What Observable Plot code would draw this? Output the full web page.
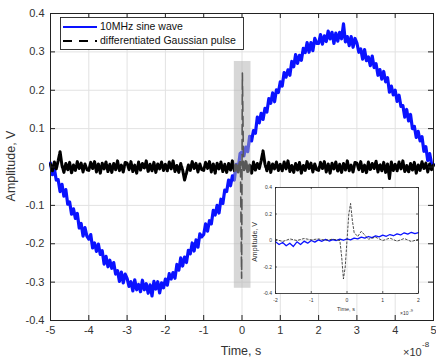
<!DOCTYPE html>
<html><head><meta charset="utf-8">
<script src="https://cdn.jsdelivr.net/npm/d3@7"></script>
<script src="https://cdn.jsdelivr.net/npm/@observablehq/plot@0.6"></script>
<style>
body{margin:0;background:#fff;}
#wrap{position:relative;width:436px;height:361px;overflow:hidden;}
#main{position:absolute;left:0;top:0;}
#inset{position:absolute;left:245px;top:180px;}
</style></head><body>
<div id="wrap"><div id="main"></div><div id="inset"></div></div>
<script>
// ---------- data (time in units of 1e-8 s for main, 1e-9 s for inset) ----------
const tMain = [-5.00,-4.95,-4.90,-4.85,-4.80,-4.75,-4.70,-4.65,-4.60,-4.55,-4.50,-4.45,-4.40,-4.35,-4.30,-4.25,-4.20,-4.15,-4.10,-4.05,
-4.00,-3.95,-3.90,-3.85,-3.80,-3.75,-3.70,-3.65,-3.60,-3.55,-3.50,-3.45,-3.40,-3.35,-3.30,-3.25,-3.20,-3.15,-3.10,-3.05,
-3.00,-2.95,-2.90,-2.85,-2.80,-2.75,-2.70,-2.65,-2.60,-2.55,-2.50,-2.45,-2.40,-2.35,-2.30,-2.25,-2.20,-2.15,-2.10,-2.05,
-2.00,-1.95,-1.90,-1.85,-1.80,-1.75,-1.70,-1.65,-1.60,-1.55,-1.50,-1.45,-1.40,-1.35,-1.30,-1.25,-1.20,-1.15,-1.10,-1.05,
-1.00,-0.95,-0.90,-0.85,-0.80,-0.75,-0.70,-0.65,-0.60,-0.55,-0.50,-0.45,-0.40,-0.35,-0.30,-0.25,-0.20,-0.15,-0.10,-0.05,
0.00,0.05,0.10,0.15,0.20,0.25,0.30,0.35,0.40,0.45,0.50,0.55,0.60,0.65,0.70,0.75,0.80,0.85,0.90,0.95,
1.00,1.05,1.10,1.15,1.20,1.25,1.30,1.35,1.40,1.45,1.50,1.55,1.60,1.65,1.70,1.75,1.80,1.85,1.90,1.95,
2.00,2.05,2.10,2.15,2.20,2.25,2.30,2.35,2.40,2.45,2.50,2.55,2.60,2.65,2.70,2.75,2.80,2.85,2.90,2.95,
3.00,3.05,3.10,3.15,3.20,3.25,3.30,3.35,3.40,3.45,3.50,3.55,3.60,3.65,3.70,3.75,3.80,3.85,3.90,3.95,
4.00,4.05,4.10,4.15,4.20,4.25,4.30,4.35,4.40,4.45,4.50,4.55,4.60,4.65,4.70,4.75,4.80,4.85,4.90,4.95,5.00];
const sineWave = [0.010,-0.020,-0.004,-0.034,-0.033,-0.064,-0.045,-0.076,-0.059,-0.097,
-0.091,-0.123,-0.109,-0.134,-0.121,-0.159,-0.147,-0.180,-0.158,-0.180,
-0.188,-0.176,-0.211,-0.198,-0.220,-0.201,-0.228,-0.218,-0.253,-0.233,
-0.260,-0.243,-0.264,-0.249,-0.279,-0.270,-0.298,-0.274,-0.302,-0.279,
-0.290,-0.311,-0.299,-0.323,-0.294,-0.320,-0.306,-0.325,-0.295,-0.320,
-0.304,-0.329,-0.307,-0.336,-0.298,-0.318,-0.299,-0.328,-0.302,-0.315,
-0.292,-0.308,-0.278,-0.292,-0.275,-0.290,-0.254,-0.269,-0.237,-0.258,
-0.235,-0.249,-0.217,-0.226,-0.198,-0.219,-0.190,-0.209,-0.174,-0.182,
-0.176,-0.148,-0.167,-0.140,-0.148,-0.113,-0.125,-0.100,-0.120,-0.084,
-0.095,-0.060,-0.064,-0.034,-0.049,-0.023,-0.034,0.007,-0.005,0.035,
0.039,0.029,0.052,0.040,0.080,0.068,0.095,0.088,0.130,0.115,
0.140,0.124,0.153,0.143,0.178,0.166,0.193,0.170,0.201,0.194,
0.222,0.211,0.246,0.234,0.253,0.239,0.275,0.261,0.293,0.270,
0.291,0.278,0.309,0.298,0.324,0.299,0.324,0.303,0.335,0.322,
0.322,0.345,0.320,0.342,0.327,0.354,0.334,0.351,0.322,0.349,
0.328,0.351,0.334,0.373,0.326,0.340,0.316,0.340,0.312,0.335,
0.323,0.299,0.308,0.281,0.306,0.277,0.287,0.264,0.289,0.259,
0.269,0.239,0.254,0.229,0.249,0.222,0.233,0.195,0.211,0.188,
0.200,0.171,0.187,0.158,0.160,0.130,0.150,0.120,0.137,0.100,
0.106,0.077,0.093,0.068,0.079,0.041,0.053,0.017,0.035,0.008,0.007];
const gaussNoise = [0.007,-0.010,0.013,-0.005,0.016,0.040,0.004,-0.014,0.009,-0.008,
0.012,-0.016,0.005,-0.009,0.014,-0.004,0.010,-0.013,0.008,-0.007,
-0.009,0.012,-0.004,0.014,-0.013,0.008,-0.016,0.010,-0.005,0.013,
-0.012,0.007,-0.014,0.009,-0.008,0.016,-0.010,0.005,-0.013,0.012,
0.010,-0.007,0.014,-0.012,0.005,-0.016,0.013,-0.008,0.009,-0.004,
0.016,-0.013,0.007,-0.010,0.012,-0.014,0.008,-0.005,0.013,-0.009,
0.007,-0.010,0.013,-0.005,0.016,-0.012,0.004,-0.014,0.009,-0.008,
-0.034,-0.016,0.005,-0.009,0.014,-0.004,0.010,-0.013,0.008,-0.007,
-0.009,0.012,-0.004,0.014,-0.013,0.008,-0.016,0.010,-0.005,0.013,
-0.012,0.007,-0.014,0.009,-0.008,0.016,-0.010,0.005,-0.013,0.012,
0.010,-0.007,0.014,-0.012,0.005,-0.016,0.013,-0.008,0.009,-0.004,
0.016,0.042,0.007,-0.010,0.012,-0.014,0.008,-0.005,0.013,-0.009,
0.007,-0.010,0.013,-0.005,0.016,-0.012,0.004,-0.014,0.009,-0.008,
0.012,-0.016,0.005,-0.009,0.014,-0.004,0.010,-0.013,0.008,-0.007,
-0.009,0.012,-0.004,0.014,-0.013,0.008,-0.016,0.010,-0.005,0.013,
-0.012,0.007,-0.014,0.009,-0.008,0.016,-0.010,0.005,-0.013,0.012,
0.010,-0.007,0.014,-0.012,0.005,-0.016,0.013,-0.008,0.009,-0.004,
0.016,-0.013,0.007,-0.010,0.012,-0.014,0.008,-0.030,0.013,-0.009,
0.007,-0.010,0.013,-0.005,0.016,-0.012,0.004,-0.014,0.009,-0.008,
0.012,-0.016,0.005,-0.009,0.014,-0.004,0.010,-0.013,0.008,-0.007,0.005];
const pulseMainT = [-0.04,-0.01,0.01,0.04];
const pulseMainV = [0.0,-0.29,0.245,0.0];
const bandT = [-0.2,0.235];
const bandV = [-0.316,0.275];
const xTicksMain = [-5,-4,-3,-2,-1,0,1,2,3,4,5];
const yTicksMain = [-0.4,-0.3,-0.2,-0.1,0,0.1,0.2,0.3,0.4];

const tInsetBlue = [-2.0,-1.9,-1.8,-1.7,-1.6,-1.5,-1.4,-1.3,-1.2,-1.1,-1.0,-0.9,-0.8,-0.7,-0.6,-0.5,-0.4,-0.3,-0.2,-0.1,
0.0,0.1,0.2,0.3,0.4,0.5,0.6,0.7,0.8,0.9,1.0,1.1,1.2,1.3,1.4,1.5,1.6,1.7,1.8,1.9,2.0];
const insetBlue = [-0.010,-0.030,-0.015,-0.040,-0.020,-0.045,-0.010,-0.030,-0.005,-0.020,
0.000,-0.012,0.005,-0.006,0.008,-0.004,0.006,0.000,0.010,0.002,
0.012,0.005,0.018,0.012,0.025,0.018,0.030,0.022,0.035,0.028,
0.040,0.032,0.045,0.036,0.050,0.042,0.058,0.048,0.062,0.052,0.060];
const tInsetPulse = [-2.0,-1.8,-1.6,-1.4,-1.2,-1.0,-0.8,-0.6,-0.4,-0.3,-0.2,-0.15,-0.1,-0.05,0.0,0.05,0.1,0.15,0.2,0.3,0.4,0.5,0.6,0.8,1.0,1.2,1.4,1.6,1.8,2.0];
const insetPulse = [0.010,-0.008,0.012,0.000,0.015,0.005,0.012,0.002,0.010,0.005,0.000,-0.12,-0.29,-0.20,0.00,0.20,0.28,0.15,0.06,0.03,0.07,0.04,0.01,0.025,0.000,0.018,-0.005,0.015,-0.008,0.010];
const xTicksInset = [-2,-1,0,1,2];
const yTicksInset = [-0.4,-0.2,0,0.2,0.4];

const legendLabels = ["10MHz sine wave","differentiated Gaussian pulse"];
const BLUE = "#0a12ff";
const FONT = '"Liberation Sans", Arial, sans-serif';
const NARROW = '"Liberation Sans Narrow", "Arial Narrow", "Liberation Sans", Arial, sans-serif';

// ---------- main ----------
const W=436,H=361,mL=50,mR=3,mT=13,mB=41;
const iw=W-mL-mR, ih=H-mT-mB;
const blueRows = tMain.map((t,i)=>({t, v: sineWave[i]}));
const blackRows = tMain.map((t,i)=>({t, v: gaussNoise[i]}));
const pulseRows = pulseMainT.map((t,i)=>({t, v: pulseMainV[i]}));
const fmt = d => String(d);

const main = Plot.plot({
  width:W, height:H, marginLeft:mL, marginRight:mR, marginTop:mT, marginBottom:mB,
  style:{fontFamily:FONT, background:"transparent", overflow:"visible"},
  x:{domain:[-5,5]}, y:{domain:[-0.4,0.4]},
  marks:[
    Plot.gridX(xTicksMain,{stroke:"#e2e2e2", strokeOpacity:1}),
    Plot.gridY(yTicksMain,{stroke:"#e2e2e2", strokeOpacity:1}),
    Plot.line(blueRows,{x:"t",y:"v",stroke:BLUE,strokeWidth:3.2}),
    Plot.line(blackRows,{x:"t",y:"v",stroke:"#000",strokeWidth:3,strokeDasharray:"18,1.5"}),
    Plot.line(pulseRows,{x:"t",y:"v",stroke:"#000",strokeWidth:1.6,strokeDasharray:"10,5"}),
    Plot.rect([0],{x1:()=>bandT[0],x2:()=>bandT[1],y1:()=>bandV[0],y2:()=>bandV[1],fill:"#b0b0b0",fillOpacity:0.5}),
    Plot.frame({stroke:"#222"}),
    Plot.tickX(xTicksMain,{x:d=>d,stroke:"#222",insetTop:ih-5}),
    Plot.tickX(xTicksMain,{x:d=>d,stroke:"#222",insetBottom:ih-5}),
    Plot.tickY(yTicksMain,{y:d=>d,stroke:"#222",insetRight:iw-5}),
    Plot.tickY(yTicksMain,{y:d=>d,stroke:"#222",insetLeft:iw-5}),
    Plot.axisX(xTicksMain,{tickSize:0,tickPadding:6,fontSize:11,fill:"#333",tickFormat:fmt,label:null}),
    Plot.axisY(yTicksMain,{tickSize:0,tickPadding:6,fontSize:11,fill:"#333",tickFormat:fmt,label:null})
  ]
});
document.getElementById("main").appendChild(main);

const svg = d3.select(main);
const lab = svg.append("g").attr("font-family",FONT).attr("fill","#333").attr("text-anchor","start");
lab.append("text").attr("x",241).attr("y",352).attr("text-anchor","middle").attr("dominant-baseline","middle").attr("font-size",12.5).text("Time, s");
lab.append("text").attr("transform","translate(12,166) rotate(-90)").attr("text-anchor","middle").attr("dominant-baseline","middle").attr("font-size",12.5).text("Amplitude, V");
lab.append("text").attr("x",403).attr("y",356).attr("font-size",11).text("×10");
lab.append("text").attr("x",422).attr("y",347).attr("font-size",8).text("-8");

// legend
const lg = svg.append("g").attr("text-anchor","start");
lg.append("rect").attr("x",60.5).attr("y",17.5).attr("width",183).attr("height",32).attr("fill","#fff").attr("stroke","#222").attr("stroke-width",0.9);
lg.append("line").attr("x1",63).attr("x2",97).attr("y1",27).attr("y2",27).attr("stroke",BLUE).attr("stroke-width",2);
lg.append("line").attr("x1",63).attr("x2",97).attr("y1",41).attr("y2",41).attr("stroke","#000").attr("stroke-width",2).attr("stroke-dasharray","9,7");
legendLabels.forEach((s,i)=>{
  lg.append("text").attr("x",100).attr("y",27+i*14).attr("dominant-baseline","middle")
    .attr("font-family",NARROW).attr("font-size",10.5).attr("fill","#111").text(s);
});

// ---------- inset ----------
const IW=190, IH=140, iL=30, iR=17, iT=7, iB=27;
const iiw=IW-iL-iR, iih=IH-iT-iB;
const insetBlueRows = tInsetBlue.map((t,i)=>({t,v:insetBlue[i]}));
const insetPulseRows = tInsetPulse.map((t,i)=>({t,v:insetPulse[i]}));
const inset = Plot.plot({
  width:IW, height:IH, marginLeft:iL, marginRight:iR, marginTop:iT, marginBottom:iB,
  style:{fontFamily:FONT, background:"transparent", overflow:"visible"},
  x:{domain:[-2,2]}, y:{domain:[-0.4,0.4]},
  marks:[
    Plot.frame({fill:"#fff"}),
    Plot.gridX(xTicksInset,{stroke:"#e2e2e2",strokeOpacity:1,strokeWidth:0.8}),
    Plot.gridY(yTicksInset,{stroke:"#e2e2e2",strokeOpacity:1,strokeWidth:0.8}),
    Plot.line(insetBlueRows,{x:"t",y:"v",stroke:BLUE,strokeWidth:1.3}),
    Plot.line(insetPulseRows,{x:"t",y:"v",stroke:"#222",strokeWidth:0.8,strokeDasharray:"2,2"}),
    Plot.frame({stroke:"#222",strokeWidth:0.8}),
    Plot.tickX(xTicksInset,{x:d=>d,stroke:"#222",strokeWidth:0.7,insetTop:iih-2}),
    Plot.tickX(xTicksInset,{x:d=>d,stroke:"#222",strokeWidth:0.7,insetBottom:iih-2}),
    Plot.tickY(yTicksInset,{y:d=>d,stroke:"#222",strokeWidth:0.7,insetRight:iiw-2}),
    Plot.tickY(yTicksInset,{y:d=>d,stroke:"#222",strokeWidth:0.7,insetLeft:iiw-2}),
    Plot.axisX(xTicksInset,{tickSize:0,tickPadding:5,fontSize:5,fill:"#333",tickFormat:fmt,label:null}),
    Plot.axisY(yTicksInset,{tickSize:0,tickPadding:3.5,fontSize:5,fill:"#333",tickFormat:fmt,label:null})
  ]
});
document.getElementById("inset").appendChild(inset);
const isvg = d3.select(inset).append("g").attr("font-family",FONT).attr("fill","#333").attr("text-anchor","start");
isvg.append("text").attr("x",101).attr("y",130).attr("text-anchor","middle").attr("dominant-baseline","middle").attr("font-size",5.5).text("Time, s");
isvg.append("text").attr("transform","translate(10,62) rotate(-90)").attr("text-anchor","middle").attr("dominant-baseline","middle").attr("font-size",7).text("Amplitude, V");
isvg.append("text").attr("x",155).attr("y",135).attr("font-size",5).text("×10");
isvg.append("text").attr("x",164.5).attr("y",131.5).attr("font-size",4).text("-9");
</script>
</body></html>
